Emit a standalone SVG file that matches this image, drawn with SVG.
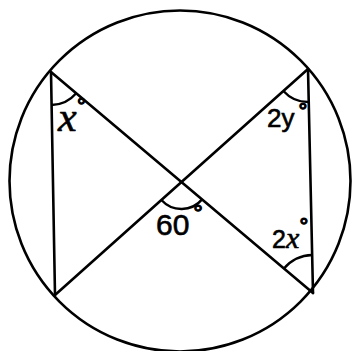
<svg xmlns="http://www.w3.org/2000/svg" width="354" height="351" viewBox="0 0 354 351">
<style>
.ln{fill:none;stroke:#000;stroke-width:2.6;stroke-linecap:round}
.arc{fill:none;stroke:#000;stroke-width:2.4}
.lbl{font-family:"Liberation Sans",Arial,sans-serif;fill:#000;stroke:#000;stroke-width:0.6}
.deg{stroke-width:1.2}
.xs{font-family:"Liberation Serif","Times New Roman",serif;font-style:italic}
</style>
<rect width="354" height="351" fill="#fff"/>
<g id="circle">
<circle cx="180" cy="181" r="170.5" class="ln" stroke-width="3"/>
</g>
<g id="chords">
<line x1="51" y1="72" x2="313" y2="293" class="ln"/>
<line x1="308" y1="69" x2="55" y2="295" class="ln"/>
<line x1="51" y1="72" x2="55" y2="295" class="ln"/>
<line x1="308" y1="69" x2="313" y2="293" class="ln"/>
</g>
<g id="angle-arcs">
<path d="M51.6 105 A33 33 0 0 0 76.2 93.3" class="arc"/>
<path d="M283.4 91 A33 33 0 0 0 308.7 102" class="arc"/>
<path d="M161.4 200 A27 27 0 0 0 202.1 199.4" class="arc"/>
<path d="M284 268.5 A38 38 0 0 1 312.2 255" class="arc"/>
</g>
<g id="labels">
<text class="lbl" x="58" y="131" font-size="42"><tspan class="xs">x</tspan><tspan class="deg" x="77" y="113.6" font-size="22">°</tspan></text>
<text class="lbl" x="267" y="127" font-size="26">2y<tspan class="deg" x="298.6" y="118.6" font-size="22">°</tspan></text>
<text class="lbl" x="156" y="235" font-size="30">60<tspan class="deg" x="193.2" y="220.8" font-size="24">°</tspan></text>
<text class="lbl" x="272" y="248" font-size="25">2<tspan class="xs" font-size="30">x</tspan><tspan class="deg" x="299.5" y="233.6" font-size="22">°</tspan></text>
</g>
</svg>
